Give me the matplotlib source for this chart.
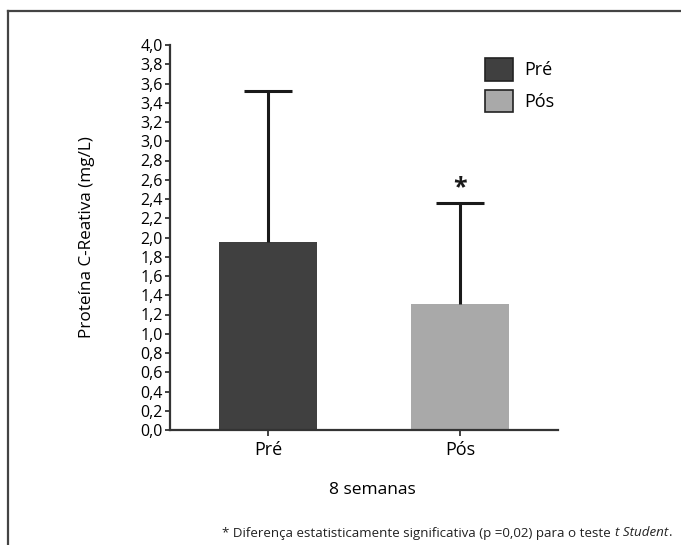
import matplotlib
matplotlib.use("Agg")
import matplotlib.pyplot as plt
from matplotlib.lines import Line2D
from matplotlib.patches import Patch

categories = ["Pré", "Pós"]
means = [1.955, 1.31]
upper_err = [1.565, 1.045]
colors = ["#404040", "#a9a9a9"]
yticks = [round(0.2 * i, 1) for i in range(21)]
ytick_labels = [f"{v:.1f}".replace(".", ",") for v in yticks]

plt.rcParams["font.family"] = ["Open Sans", "DejaVu Sans"]

W, H = 681, 545
fig = plt.figure(figsize=(W / 100, H / 100), dpi=100)
ax = fig.add_axes([170 / W, 1 - 430 / H, (558 - 170) / W, (430 - 45) / H])

x = list(range(len(categories)))
ax.bar(x, means, width=0.51, color=colors, edgecolor="none", zorder=2)
eb = ax.errorbar(x, means, yerr=[[0] * len(x), upper_err], fmt="none",
                 ecolor="#1a1a1a", elinewidth=2.2, capsize=17.5, capthick=2.2, zorder=3)
# hide the lower caps (only upper error shown)
eb[1][0].set_visible(False)

# significance asterisk above Pós
ax.text(1, means[1] + upper_err[1] + 0.03, "*", ha="center", va="bottom",
        fontsize=18, fontweight="bold", color="#1a1a1a")

ax.set_xlim(-0.51, 1.51)
ax.set_ylim(0, 4.0)
ax.set_yticks(yticks)
ax.set_yticklabels(ytick_labels)
ax.set_xticks(x)
ax.set_xticklabels(categories)

for s in ["top", "right"]:
    ax.spines[s].set_visible(False)
for s in ["left", "bottom"]:
    ax.spines[s].set_linewidth(1.6)
    ax.spines[s].set_color("#333333")
ax.tick_params(axis="y", length=3.5, width=1.3, color="#333333", labelsize=11.5, pad=1.5)
ax.tick_params(axis="x", length=4, width=1.3, color="#333333", labelsize=13, pad=4)

ax.set_ylabel("Proteína C-Reativa (mg/L)", fontsize=12.3)
ax.yaxis.set_label_coords(-(170 - 95) / (558 - 170), 0.5)
ax.set_xlabel("8 semanas", fontsize=12.5)
ax.xaxis.set_label_coords((372 - 170) / (558 - 170), -(490 - 430) / (430 - 45))
ax.xaxis.label.set_va("center")

handles = [Patch(facecolor=c, edgecolor="#222222", linewidth=1.2) for c in colors]
leg = ax.legend(handles, categories, loc="upper left",
                bbox_to_anchor=((485 - 170) / (558 - 170), 1 - (58 - 45) / (430 - 45)),
                frameon=False, fontsize=13, handlelength=1.55, handleheight=1.55,
                labelspacing=0.5, handletextpad=0.6, borderaxespad=0, borderpad=0)

# footnote: regular part + italic "t Student" + "."
fy = 1 - 533 / H
fs = 9.6
t_dot = fig.text(672 / W, fy, ".", ha="right", va="center", fontsize=fs, color="#222222")
fig.canvas.draw()
r = fig.canvas.get_renderer()
bb = t_dot.get_window_extent(r)
t_it = fig.text(bb.x0 / W, fy, "t Student", ha="right", va="center", fontsize=fs,
                style="italic", color="#222222")
bb2 = t_it.get_window_extent(r)
fig.text(bb2.x0 / W - 4 / W, fy,
         "* Diferença estatisticamente significativa (p =0,02) para o teste",
         ha="right", va="center", fontsize=fs, color="#222222")

# outer frame (left and top edges visible)
fig.add_artist(Line2D([8 / W, 8 / W], [0, 1 - 11 / H], transform=fig.transFigure,
                      color="#444444", linewidth=1.6))
fig.add_artist(Line2D([8 / W, 1], [1 - 11 / H, 1 - 11 / H], transform=fig.transFigure,
                      color="#444444", linewidth=1.6))

fig.savefig("out.png", dpi=100)
